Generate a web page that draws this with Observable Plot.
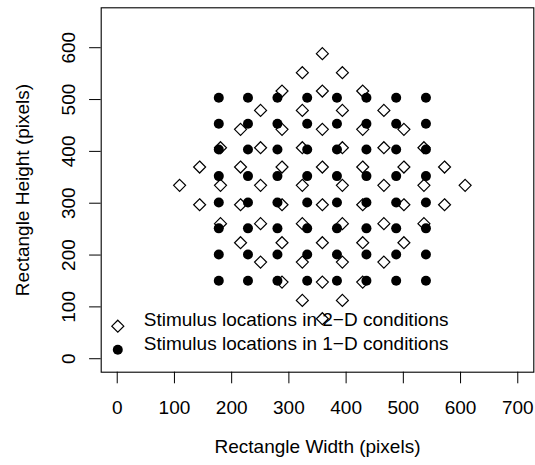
<!DOCTYPE html>
<html>
<head>
<meta charset="utf-8">
<script src="https://cdn.jsdelivr.net/npm/d3@7"></script>
<script src="https://cdn.jsdelivr.net/npm/@observablehq/plot@0.6"></script>
<style>
  html, body { margin: 0; padding: 0; background: #ffffff; }
  #chart svg { display: block; }
</style>
</head>
<body>
<div id="chart"></div>
<script>
// Axis ticks
const xTicks = [0, 100, 200, 300, 400, 500, 600, 700];
const yTicks = [0, 100, 200, 300, 400, 500, 600];

// Text
const xTitle = "Rectangle Width (pixels)";
const yTitle = "Rectangle Height (pixels)";
const label2D = "Stimulus locations in 2\u2212D conditions";
const label1D = "Stimulus locations in 1\u2212D conditions";

// 1-D conditions: full grid of widths x heights
const widths1D  = [177.5, 228.5, 280, 332, 384, 435.5, 487.5, 539.5];
const heights1D = [150.5, 201, 251.5, 301.5, 352.3, 403.5, 453.4, 503.6];

// 2-D conditions: rotated lattice, one line per row (top to bottom)
const widths2D = [
  358.5,
  323.5, 393.5,
  288, 358.5, 429,
  250.5, 323.5, 393.5, 466,
  215.5, 288, 358.5, 429, 501,
  180.5, 250.5, 323.5, 393.5, 466, 536,
  144, 215.5, 288, 358.5, 429, 501, 572,
  109, 180.5, 250.5, 323.5, 393.5, 466, 536, 608,
  144, 215.5, 288, 358.5, 429, 501, 572,
  180.5, 250.5, 323.5, 393.5, 466, 536,
  215.5, 288, 358.5, 429, 501,
  250.5, 323.5, 393.5, 466,
  288, 358.5, 429,
  323.5, 393.5,
  358.5
];
const heights2D = [
  588.5,
  551.8, 551.8,
  516.4, 516.4, 516.4,
  479.1, 479.1, 479.1, 479.1,
  442.5, 442.5, 442.5, 442.5, 442.5,
  407.1, 407.1, 407.1, 407.1, 407.1, 407.1,
  369.8, 369.8, 369.8, 369.8, 369.8, 369.8, 369.8,
  334.5, 334.5, 334.5, 334.5, 334.5, 334.5, 334.5, 334.5,
  297.1, 297.1, 297.1, 297.1, 297.1, 297.1, 297.1,
  260.5, 260.5, 260.5, 260.5, 260.5, 260.5,
  223.8, 223.8, 223.8, 223.8, 223.8,
  186.4, 186.4, 186.4, 186.4,
  147.8, 147.8, 147.8,
  112.5, 112.5,
  77.2
];

const points1D = heights1D.flatMap(h => widths1D.map(w => ({w, h})));
const points2D = widths2D.map((w, i) => ({w, h: heights2D[i]}));

const FONT = "19px";

const chart = Plot.plot({
  width: 535,
  height: 465,
  marginLeft: 100.7,
  marginRight: 1.7,
  marginTop: 7.3,
  marginBottom: 93.3,
  x: {domain: [-28, 728]},
  y: {domain: [-26, 677]},
  style: {
    fontFamily: "'Liberation Sans', Arial, Helvetica, sans-serif",
    fontSize: FONT,
    color: "black",
    background: "white"
  },
  marks: [
    Plot.frame({stroke: "black", strokeWidth: 1.1}),
    Plot.axisX(xTicks, {tickSize: 11.6, tickPadding: 16.4, label: null, fontSize: FONT}),
    Plot.axisY(yTicks, {tickSize: 11.6, tickPadding: 14.5, tickRotate: -90, label: null, fontSize: FONT}),
    Plot.text([xTitle], {frameAnchor: "bottom", dy: 80.3, textAnchor: "middle", text: d => d, fontSize: FONT}),
    Plot.text([yTitle], {frameAnchor: "left", dx: -78.7, rotate: -90, textAnchor: "middle", text: d => d, fontSize: FONT}),
    // 2-D stimulus locations (open diamonds)
    Plot.dot(points2D, {x: "w", y: "h", symbol: "diamond2", r: 5.4, stroke: "black", strokeWidth: 1.2, fill: "none"}),
    // 1-D stimulus locations (filled circles)
    Plot.dot(points1D, {x: "w", y: "h", r: 5, fill: "black", stroke: "none"}),
    // Legend
    Plot.dot([label2D], {frameAnchor: "bottom-left", dx: 16.6, dy: -46, symbol: "diamond2", r: 5.4, stroke: "black", strokeWidth: 1.2, fill: "none"}),
    Plot.dot([label1D], {frameAnchor: "bottom-left", dx: 16.6, dy: -22.4, r: 5, fill: "black", stroke: "none"}),
    Plot.text([label2D], {frameAnchor: "bottom-left", dx: 42.6, dy: -46, textAnchor: "start", text: d => d, fontSize: FONT}),
    Plot.text([label1D], {frameAnchor: "bottom-left", dx: 42.6, dy: -22.4, textAnchor: "start", text: d => d, fontSize: FONT})
  ]
});

document.getElementById("chart").appendChild(chart);
</script>
</body>
</html>
